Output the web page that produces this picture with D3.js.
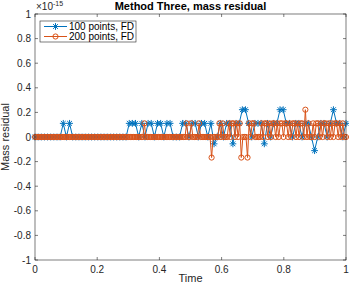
<!DOCTYPE html>
<html>
<head>
<meta charset="utf-8">
<script src="https://cdn.jsdelivr.net/npm/d3@7"></script>
<style>
  body { margin: 0; background: #fff; }
  svg { font-family: "Liberation Sans", Arial, sans-serif; }
</style>
</head>
<body>
<svg id="chart" width="349" height="286"></svg>
<script>
// mass residual values, in units of 1e-16
var res100 = [
	0,0,0,0,0,0,0,0,0,1.11, 0,1.11,0,0,0,0,0,0,0,0,
	0,0,0,0,0,0,0,0,0,0, 1.11,1.11,1.11,0,1.11,0,1.11,1.11,0,1.11,
	1.11,0,1.11,1.11,0,0,0,1.11,1.11,0, 1.11,1.11,0,1.11,1.11,0,1.11,-0.555,0,1.11,
	0,1.11,1.11,-0.555,1.11,1.11,2.22,2.22,1.11,0, 1.11,1.11,1.11,-0.555,1.11,0,1.11,1.11,2.22,2.22,
	1.11,1.11,0,1.11,1.11,0,1.11,1.11,0,-1.11, 0,1.11,1.11,0,1.11,2.22,1.11,1.11,0,1.11
];
var res200 = [
	0,0,0,0,0,0,0,0,0,0, 0,0,0,0,0,0,0,0,0,0,
	0,0,0,0,0,0,0,0,0,0, 0,0,0,0,0,0,0,0,0,0,
	0,0,0,0,0,0,0,0,0,0, 0,0,0,0,0,0,0,0,0,0,
	0,0,0,0,0,0,0,0,0,0, 1.11,0,0,0,0,0,0,0,0,0,
	0,0,0,0,0,0,0,0,0,0, 0,0,0,0,0,0,0,1.11,0,0,
	1.11,0,0,0,0,1.11,0,0,0,0, 0,0,0,-1.67,0,0,0,0,1.11,0,
	1.11,0,0,0,1.11,0,1.11,1.11,0,1.11, 0,1.11,-1.67,0,0,0,-1.67,1.11,0,1.11,
	1.11,0,0,0,0,1.11,0,1.11,1.11,0, 1.11,0,1.11,1.11,0,1.11,0,1.11,1.11,0,
	1.11,1.11,0,1.11,0,1.11,1.11,0,1.11,0, 1.11,1.11,0,2.22,0,1.11,0,0,1.11,0,
	1.11,1.11,0,1.11,0,1.11,1.11,0,1.11,0, 1.11,0,1.11,1.11,0,1.11,0,1.11,0,0
];
var series = [
	{name: "100 points, FD", values: res100, color: "#0072BD", marker: "star"},
	{name: "200 points, FD", values: res200, color: "#D95319", marker: "circle"}
];
var xTicks = [0, 0.2, 0.4, 0.6, 0.8, 1];
var yTicks = [-10, -8, -6, -4, -2, 0, 2, 4, 6, 8, 10];
var yTickLabels = ["-1", "-0.8", "-0.6", "-0.4", "-0.2", "0", "0.2", "0.4", "0.6", "0.8", "1"];

(function(){
	var svg = d3.select("#chart"),
		m = {left: 35, right: 346, top: 14, bottom: 260},
		ink = "#262626";

	var x = d3.scaleLinear().domain([0, 1]).range([m.left, m.right]);
	var y = d3.scaleLinear().domain([-10, 10]).range([m.bottom, m.top]);

	// ticks, inward on all four sides
	var tickLen = 3;
	var axes = svg.append("g").attr("stroke", ink).attr("stroke-width", 0.6);
	xTicks.forEach(function(t){
		axes.append("line").attr("x1", x(t)).attr("x2", x(t)).attr("y1", m.bottom).attr("y2", m.bottom - tickLen);
		axes.append("line").attr("x1", x(t)).attr("x2", x(t)).attr("y1", m.top).attr("y2", m.top + tickLen);
	});
	yTicks.forEach(function(t){
		axes.append("line").attr("x1", m.left).attr("x2", m.left + tickLen).attr("y1", y(t)).attr("y2", y(t));
		axes.append("line").attr("x1", m.right).attr("x2", m.right - tickLen).attr("y1", y(t)).attr("y2", y(t));
	});

	svg.append("g").selectAll("text").data(xTicks).enter().append("text")
		.attr("x", function(d){ return x(d); })
		.attr("y", m.bottom + 13)
		.attr("text-anchor", "middle")
		.attr("font-size", 10).attr("fill", ink)
		.text(function(d){ return d; });

	svg.append("g").selectAll("text").data(yTicks).enter().append("text")
		.attr("x", m.left - 4)
		.attr("y", function(d){ return y(d) + 3.5; })
		.attr("text-anchor", "end")
		.attr("font-size", 10).attr("fill", ink)
		.text(function(d, i){ return yTickLabels[i]; });

	// exponent label
	var ex = svg.append("text").attr("x", m.left + 1).attr("y", 10).attr("font-size", 10).attr("fill", ink);
	ex.append("tspan").text("\u00d710");
	ex.append("tspan").attr("dy", -4).attr("font-size", 7).text("-15");

	svg.append("text")
		.attr("x", (m.left + m.right) / 2).attr("y", 10)
		.attr("text-anchor", "middle")
		.attr("font-size", 11).attr("font-weight", "bold").attr("fill", "#000")
		.text("Method Three, mass residual");

	svg.append("text")
		.attr("x", (m.left + m.right) / 2).attr("y", 282)
		.attr("text-anchor", "middle")
		.attr("font-size", 11).attr("fill", ink)
		.text("Time");

	svg.append("text")
		.attr("transform", "translate(9," + ((m.top + m.bottom) / 2) + ") rotate(-90)")
		.attr("text-anchor", "middle")
		.attr("font-size", 11).attr("fill", ink)
		.text("Mass residual");

	var starPath = "M-3.4,0H3.4M0,-3.4V3.4M-2.4,-2.4L2.4,2.4M-2.4,2.4L2.4,-2.4";

	function drawMarker(g, s, px, py){
		if (s.marker === "star") {
			g.append("path").attr("d", starPath)
				.attr("transform", "translate(" + px + "," + py + ")")
				.attr("stroke", s.color).attr("stroke-width", 1).attr("fill", "none");
		} else {
			g.append("circle").attr("cx", px).attr("cy", py).attr("r", 2.6)
				.attr("stroke", s.color).attr("stroke-width", 1).attr("fill", "none");
		}
	}

	var plot = svg.append("g");
	series.forEach(function(s){
		var n = s.values.length;
		var t = d3.scaleLinear().domain([0, n - 1]).range([0, 1]);
		var line = d3.line()
			.x(function(d, i){ return x(t(i)); })
			.y(function(d){ return y(d); });
		var g = plot.append("g");
		g.append("path").datum(s.values)
			.attr("d", line)
			.attr("fill", "none").attr("stroke", s.color).attr("stroke-width", 1);
		s.values.forEach(function(v, i){ drawMarker(g, s, x(t(i)), y(v)); });
	});

	svg.append("rect")
		.attr("x", m.left).attr("y", m.top)
		.attr("width", m.right - m.left).attr("height", m.bottom - m.top)
		.attr("fill", "none").attr("stroke", ink).attr("stroke-width", 0.6);

	// legend
	var lg = svg.append("g").attr("transform", "translate(40,21)");
	lg.append("rect").attr("width", 96).attr("height", 21)
		.attr("fill", "#fff").attr("stroke", ink).attr("stroke-width", 0.6);
	series.forEach(function(s, i){
		var ly = 5.5 + i * 10;
		lg.append("line").attr("x1", 4).attr("x2", 27).attr("y1", ly).attr("y2", ly)
			.attr("stroke", s.color).attr("stroke-width", 1);
		drawMarker(lg, s, 15.5, ly);
		lg.append("text").attr("x", 29).attr("y", ly + 3.5)
			.attr("font-size", 10).attr("fill", "#000").text(s.name);
	});
})();
</script>
</body>
</html>
